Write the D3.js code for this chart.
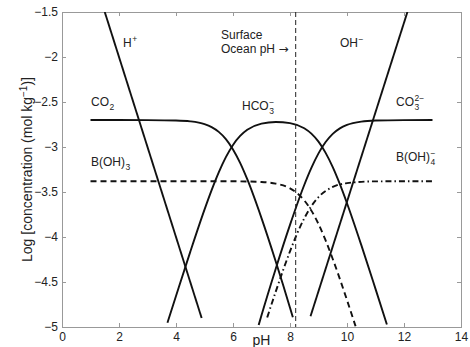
<!DOCTYPE html>
<html>
<head>
<meta charset="utf-8">
<script src="https://cdn.jsdelivr.net/npm/d3@7"></script>
<style>
body { margin: 0; background: #fff; }
text { font-family: "Liberation Sans", Arial, sans-serif; fill: #222; }
</style>
</head>
<body>
<script>
let width = 470;
let height = 347;

// values (pH, log concentration)
let co2PH = [1, 2, 3, 4, 4.5, 5, 5.25, 5.5, 5.75, 6, 6.25, 6.5, 7, 7.5, 8, 8.1];
let co2Log = [-2.700, -2.700, -2.701, -2.705, -2.715, -2.746, -2.779, -2.832, -2.912, -3.027, -3.176, -3.358, -3.790, -4.272, -4.785, -4.892];

let hco3PH = [3.7, 4, 4.5, 5, 5.25, 5.5, 5.75, 6, 6.25, 6.5, 7, 7.5, 8, 8.5, 8.75, 9, 9.25, 9.5, 9.75, 10, 10.5, 11, 11.4];
let hco3Log = [-4.952, -4.655, -4.165, -3.696, -3.479, -3.282, -3.113, -2.977, -2.877, -2.809, -2.740, -2.722, -2.735, -2.792, -2.852, -2.941, -3.065, -3.224, -3.413, -3.625, -4.088, -4.576, -4.972];

let co3PH = [6.9, 7, 7.5, 8, 8.5, 8.75, 9, 9.25, 9.5, 9.75, 10, 10.5, 11, 12, 13];
let co3Log = [-4.979, -4.870, -4.352, -3.865, -3.422, -3.232, -3.071, -2.945, -2.854, -2.793, -2.755, -2.718, -2.706, -2.701, -2.700];

let bohPH = [1, 4, 6, 7, 7.5, 8, 8.25, 8.5, 8.75, 9, 9.25, 9.5, 10, 10.3];
let bohLog = [-3.380, -3.380, -3.381, -3.389, -3.407, -3.459, -3.512, -3.593, -3.707, -3.856, -4.038, -4.244, -4.701, -4.991];

let boh4PH = [7.2, 7.5, 8, 8.25, 8.5, 8.75, 9, 9.5, 10, 11, 13];
let boh4Log = [-4.894, -4.607, -4.159, -3.962, -3.793, -3.657, -3.556, -3.444, -3.401, -3.382, -3.380];

let hPH = [1.5, 4.9];
let hLog = [-1.5, -4.9];

let ohPH = [8.72, 12.12];
let ohLog = [-4.88, -1.5];

let surfacePH = 8.2;

let xTicks = [0, 2, 4, 6, 8, 10, 12, 14];
let yTicks = [-5, -4.5, -4, -3.5, -3, -2.5, -2, -1.5];

let pLeft = 62, pRight = 461, pTop = 12, pBottom = 327;

let x = d3.scaleLinear().domain([0, 14]).range([pLeft, pRight]);
let y = d3.scaleLinear().domain([-5, -1.5]).range([pBottom, pTop]);

let svg = d3.select("body").append("svg")
    .attr("width", width)
    .attr("height", height);

// axes, ticks pointing inward
let fmt = d3.format("~g");
function styleAxis(g){
    g.select(".domain").remove();
    g.selectAll(".tick line").attr("stroke", "#999");
    g.selectAll(".tick text").attr("font-size", 12).attr("fill", "#222")
        .style("font-family", "'Liberation Sans', Arial, sans-serif");
}
svg.append("g").attr("transform", "translate(0," + pBottom + ")")
    .call(d3.axisBottom(x).tickValues(xTicks).tickFormat(fmt).tickSizeInner(-4).tickSizeOuter(0).tickPadding(5))
    .call(styleAxis);
svg.append("g").attr("transform", "translate(0," + pTop + ")")
    .call(d3.axisTop(x).tickValues(xTicks).tickFormat("").tickSizeInner(-4).tickSizeOuter(0))
    .call(styleAxis);
svg.append("g").attr("transform", "translate(" + pLeft + ",0)")
    .call(d3.axisLeft(y).tickValues(yTicks).tickFormat(fmt).tickSizeInner(-4).tickSizeOuter(0).tickPadding(4))
    .call(styleAxis);
svg.append("g").attr("transform", "translate(" + pRight + ",0)")
    .call(d3.axisRight(y).tickValues(yTicks).tickFormat("").tickSizeInner(-4).tickSizeOuter(0))
    .call(styleAxis);

svg.append("rect")
    .attr("x", pLeft).attr("y", pTop)
    .attr("width", pRight - pLeft).attr("height", pBottom - pTop)
    .attr("fill", "none").attr("stroke", "#999")
    .attr("shape-rendering", "crispEdges");

svg.append("clipPath").attr("id", "plotClip")
    .append("rect")
    .attr("x", pLeft).attr("y", pTop)
    .attr("width", pRight - pLeft).attr("height", pBottom - pTop);

let plot = svg.append("g").attr("clip-path", "url(#plotClip)");

let line = d3.line()
    .x(d => x(d[0]))
    .y(d => y(d[1]))
    .curve(d3.curveMonotoneX);

let series = [
    {ph: co2PH, v: co2Log, dash: null},
    {ph: hco3PH, v: hco3Log, dash: null},
    {ph: co3PH, v: co3Log, dash: null},
    {ph: hPH, v: hLog, dash: null},
    {ph: ohPH, v: ohLog, dash: null},
    {ph: bohPH, v: bohLog, dash: "6,4"},
    {ph: boh4PH, v: boh4Log, dash: "6,3,1.5,3"}
];

plot.selectAll("path.species")
    .data(series)
    .enter()
    .append("path")
        .attr("class", "species")
        .attr("d", function(s){
            return line(s.ph.map((p, i) => [p, s.v[i]]));
        })
        .attr("fill", "none")
        .attr("stroke", "#111")
        .attr("stroke-width", 1.9)
        .attr("stroke-dasharray", function(s){ return s.dash; })
;

// surface ocean pH marker
plot.append("line")
    .attr("x1", x(surfacePH)).attr("x2", x(surfacePH))
    .attr("y1", pTop).attr("y2", pBottom)
    .attr("stroke", "#222")
    .attr("stroke-width", 1)
    .attr("stroke-dasharray", "5,3");

// species labels with stacked sub/superscripts
function label(px, py, base, sub, sup){
    let t = svg.append("text").attr("x", px).attr("y", py)
        .attr("font-size", 12).text(base);
    let w = t.node().getComputedTextLength();
    if(sub){
        svg.append("text").attr("x", px + w + 0.5).attr("y", py + 4)
            .attr("font-size", 8.5).text(sub);
    }
    if(sup){
        svg.append("text").attr("x", px + w + 0.5).attr("y", py - 5)
            .attr("font-size", 8.5).text(sup);
    }
}

label(123, 47, "H", null, "+");
label(91, 106, "CO", "2", null);
label(91, 166, "B(OH)", "3", null);
label(242, 110, "HCO", "3", "\u2212");
label(340, 47, "OH", null, "\u2212");
label(396, 106, "CO", "3", "2\u2212");
label(396, 161, "B(OH)", "4", "\u2212");

svg.append("text").attr("x", 221).attr("y", 39).attr("font-size", 12).text("Surface");
let ocean = svg.append("text").attr("x", 221).attr("y", 53).attr("font-size", 12);
ocean.append("tspan").text("Ocean pH ");
ocean.append("tspan").style("font-family", "'DejaVu Sans', sans-serif").attr("font-size", 12).text("\u2192");

// axis titles
svg.append("text")
    .attr("x", (pLeft + pRight) / 2)
    .attr("y", 345)
    .attr("text-anchor", "middle")
    .attr("font-size", 14)
    .text("pH");

let yTitle = svg.append("text")
    .attr("transform", "translate(32," + ((pTop + pBottom) / 2) + ") rotate(-90)")
    .attr("text-anchor", "middle")
    .attr("font-size", 14);
yTitle.append("tspan").text("Log [concentration (mol kg");
yTitle.append("tspan").attr("font-size", 10).attr("dy", -5).text("\u22121");
yTitle.append("tspan").attr("dy", 5).text(")]");
</script>
</body>
</html>
